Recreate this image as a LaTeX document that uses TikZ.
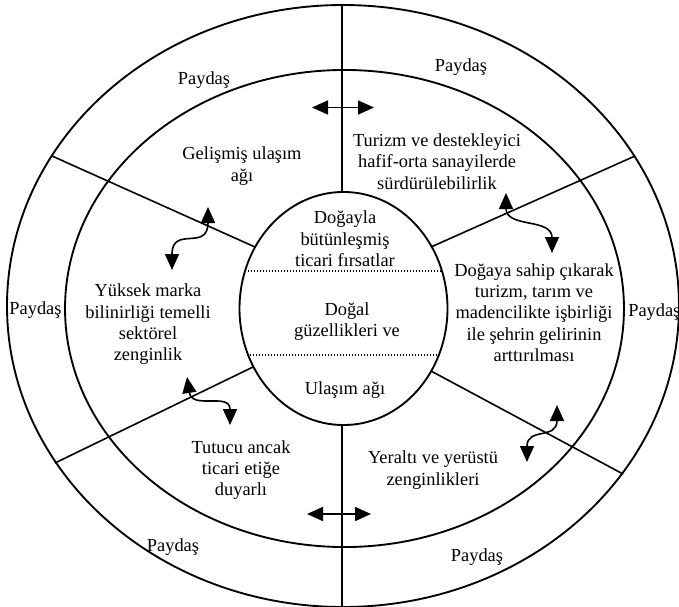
\documentclass[tikz,border=0pt]{standalone}
\usepackage{fontspec}
\setmainfont{Liberation Serif}
\usetikzlibrary{arrows.meta}
\begin{document}
\begin{tikzpicture}[x=0.75pt,y=-0.75pt,
  ring/.style={line width=1.4pt},
  spoke/.style={line width=1.2pt},
  lbl/.style={font=\fontsize{13.8}{16}\selectfont, align=center, inner sep=0pt},
  tip/.style={Triangle[length=12pt,width=10.5pt]},
  dbl/.style={line width=1.2pt, {Triangle[length=12pt,width=10.5pt]}-{Triangle[length=12pt,width=10.5pt]}},
  sep/.style={line width=1pt, dash pattern=on 1pt off 1.25pt}]
\useasboundingbox (0,0) rectangle (679,607);
\clip (0,0) rectangle (679,607);

% rings
\coordinate (oc) at (343,306);
\coordinate (mc) at (344.5,308.5);
\coordinate (ic) at (343.5,308.5);
\draw[ring] (oc) ellipse [x radius=252pt, y radius=225.75pt];
\draw[ring] (mc) ellipse [x radius=209.6pt, y radius=178.9pt];
\draw[ring] (ic) ellipse [x radius=78pt, y radius=87.4pt];

% spokes
\coordinate (vtI) at (342,192); \coordinate (vtO) at (342,5);
\coordinate (vbI) at (342,425); \coordinate (vbO) at (342,607);
\coordinate (ulI) at (255,247); \coordinate (ulO) at (52,156);
\coordinate (urI) at (431,247); \coordinate (urO) at (635,156);
\coordinate (llI) at (253,367); \coordinate (llO) at (55,463);
\coordinate (lrI) at (431,371); \coordinate (lrO) at (623,474);
\draw[spoke] (vtI) -- (vtO);
\draw[spoke] (vbI) -- (vbO);
\draw[spoke] (ulI) -- (ulO);
\draw[spoke] (urI) -- (urO);
\draw[spoke] (llI) -- (llO);
\draw[spoke] (lrI) -- (lrO);

% dotted separators in the core
\coordinate (s1a) at (245,271); \coordinate (s1b) at (442,271);
\coordinate (s2a) at (247,355); \coordinate (s2b) at (440,355);
\draw[sep] (s1a) -- (s1b);
\draw[sep] (s2a) -- (s2b);

% straight double arrows
\coordinate (da1) at (312,107.5); \coordinate (db1) at (374,107.5);
\coordinate (da2) at (307,514); \coordinate (db2) at (371,514);
\draw[dbl] (da1) -- (db1);
\draw[dbl] (da2) -- (db2);

% wavy double arrows
\coordinate (w1a) at (172,270); \coordinate (w1b) at (208,207);
\coordinate (w2a) at (506,193); \coordinate (w2b) at (552,253);
\coordinate (w3a) at (187,377); \coordinate (w3b) at (230,425);
\coordinate (w4a) at (557,405); \coordinate (w4b) at (527,462);
\draw[dbl] (w1a) .. controls (172,225) and (208,252) .. (w1b);
\draw[dbl] (w2a) .. controls (506,228) and (552,218) .. (w2b);
\draw[dbl] (w3a) .. controls (192,410) and (230,392) .. (w3b);
\draw[dbl] (w4a) .. controls (557,440) and (527,427) .. (w4b);

% stakeholder labels
\node[lbl] (pTL) at (204,80) {Paydaş};
\node[lbl] (pTR) at (461,67) {Paydaş};
\node[lbl] (pL) at (35.5,310) {Paydaş};
\node[lbl,anchor=west] (pR) at (628,312) {Paydaş};
\node[lbl] (pBL) at (173,547) {Paydaş};
\node[lbl] (pBR) at (477,557) {Paydaş};

% sector labels
\node[lbl] (tGel) at (242,166) {Gelişmiş ulaşım\\ağı};
\node[lbl] (tTur) at (437,161.5) {Turizm ve destekleyici\\hafif-orta sanayilerde\\sürdürülebilirlik};
\node[lbl] (tYuk) at (148,324.5) {Yüksek marka\\bilinirliği temelli\\sektörel\\zenginlik};
\node[lbl] (tDog) at (534,312.5) {Doğaya sahip çıkarak\\turizm, tarım ve\\madencilikte işbirliği\\ile şehrin gelirinin\\arttırılması};
\node[lbl] (tTut) at (241,470) {Tutucu ancak\\ticari etiğe\\duyarlı};
\node[lbl] (tYer) at (433,470) {Yeraltı ve yerüstü\\zenginlikleri};

% core labels
\node[lbl] (iTop) at (345,239) {Doğayla\\bütünleşmiş\\ticari fırsatlar};
\node[lbl] (iMid) at (347,321.5) {Doğal\\güzellikleri ve};
\node[lbl] (iBot) at (345,390) {Ulaşım ağı};
\end{tikzpicture}
\end{document}
